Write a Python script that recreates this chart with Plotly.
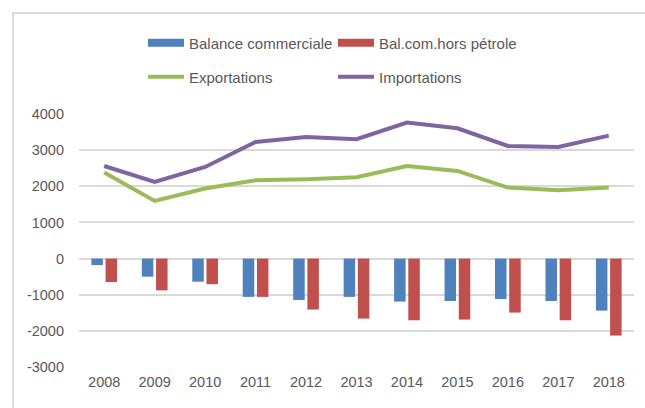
import plotly.graph_objects as go

years = ["2008", "2009", "2010", "2011", "2012", "2013", "2014", "2015", "2016", "2017", "2018"]
balance_commerciale = [-180, -500, -640, -1060, -1145, -1060, -1190, -1173, -1118, -1173, -1440]
bal_hors_petrole = [-650, -880, -710, -1060, -1410, -1660, -1707, -1688, -1494, -1707, -2130]
exportations = [2380, 1594, 1937, 2167, 2194, 2250, 2562, 2424, 1964, 1890, 1964]
importations = [2562, 2120, 2535, 3227, 3365, 3301, 3763, 3605, 3116, 3088, 3403]
y_ticks = [-3000, -2000, -1000, 0, 1000, 2000, 3000, 4000]
y_tick_labels = ["-3000", "-2000", "-1000", "0", "1000", "2000", "3000", "4000"]

BLUE = "#4F81BD"
RED = "#C0504D"
GREEN = "#9BBB59"
PURPLE = "#8064A2"
TXT = "#595959"
GRID = "#D9D9D9"
FONT = "Liberation Sans, Arial, sans-serif"

fig = go.Figure()
fig.add_trace(go.Bar(x=years, y=balance_commerciale, name="Balance commerciale",
                     marker=dict(color=BLUE, line=dict(width=0)), showlegend=False))
fig.add_trace(go.Bar(x=years, y=bal_hors_petrole, name="Bal.com.hors pétrole",
                     marker=dict(color=RED, line=dict(width=0)), showlegend=False))
fig.add_trace(go.Scatter(x=years, y=exportations, name="Exportations", mode="lines",
                         line=dict(color=GREEN, width=4), showlegend=False))
fig.add_trace(go.Scatter(x=years, y=importations, name="Importations", mode="lines",
                         line=dict(color=PURPLE, width=4), showlegend=False))

# legend entries (styled like the original: wide rectangles for bars, thick lines)
fig.add_trace(go.Scatter(x=[None], y=[None], mode="lines", name="Balance commerciale",
                         line=dict(color=BLUE, width=8), legend="legend"))
fig.add_trace(go.Scatter(x=[None], y=[None], mode="lines", name="Bal.com.hors pétrole",
                         line=dict(color=RED, width=8), legend="legend"))
fig.add_trace(go.Scatter(x=[None], y=[None], mode="lines", name="Exportations",
                         line=dict(color=GREEN, width=4), legend="legend2"))
fig.add_trace(go.Scatter(x=[None], y=[None], mode="lines", name="Importations",
                         line=dict(color=PURPLE, width=4), legend="legend2"))

OFF = 0  # page body margin removed by post_script below
W, H = 645, 408
L = 79
T = 114
B = H - 367
R = W - 634
pw, ph = W - L - R, H - T - B

def px_x(p):
    return (p - OFF - L) / pw

def px_y(p):
    return (H - B - (p - OFF)) / ph

legend_common = dict(orientation="h", xanchor="left", yanchor="middle",
                     entrywidth=139, entrywidthmode="pixels", itemwidth=36,
                     font=dict(family=FONT, size=15, color=TXT),
                     bgcolor="rgba(0,0,0,0)", itemclick=False, tracegroupgap=0)

fig.update_layout(
    width=W, height=H,
    margin=dict(l=L, r=R, t=T, b=B, autoexpand=False),
    paper_bgcolor="white", plot_bgcolor="white",
    barmode="group", bargap=0.437, bargroupgap=0.19,
    font=dict(family=FONT, size=14.5, color=TXT),
    legend=dict(x=px_x(143), y=px_y(43), **legend_common),
    legend2=dict(x=px_x(143), y=px_y(77), **legend_common),
    xaxis=dict(showgrid=False, showline=False, zeroline=False, ticks="",
               tickfont=dict(size=14.5, color=TXT), ticklabelstandoff=4,
               fixedrange=True),
    yaxis=dict(range=[-3000, 4000], tickvals=y_ticks, ticktext=y_tick_labels,
               showgrid=True, gridcolor=GRID,
               gridwidth=1.5, zeroline=True, zerolinecolor=GRID, zerolinewidth=1.5,
               showline=False, ticks="", tickfont=dict(size=14.5, color=TXT),
               ticklabelstandoff=14, fixedrange=True),
    shapes=[
        dict(type="line", xref="paper", yref="paper", x0=px_x(13), x1=px_x(700),
             y0=px_y(13), y1=px_y(13), line=dict(color=GRID, width=2)),
        dict(type="line", xref="paper", yref="paper", x0=px_x(13), x1=px_x(13),
             y0=px_y(13), y1=px_y(450), line=dict(color=GRID, width=2)),
    ],
)

fig.write_html(
    "out.html",
    config={"displayModeBar": False},
    post_script="document.body.style.margin='0';document.body.style.overflow='hidden';",
)
